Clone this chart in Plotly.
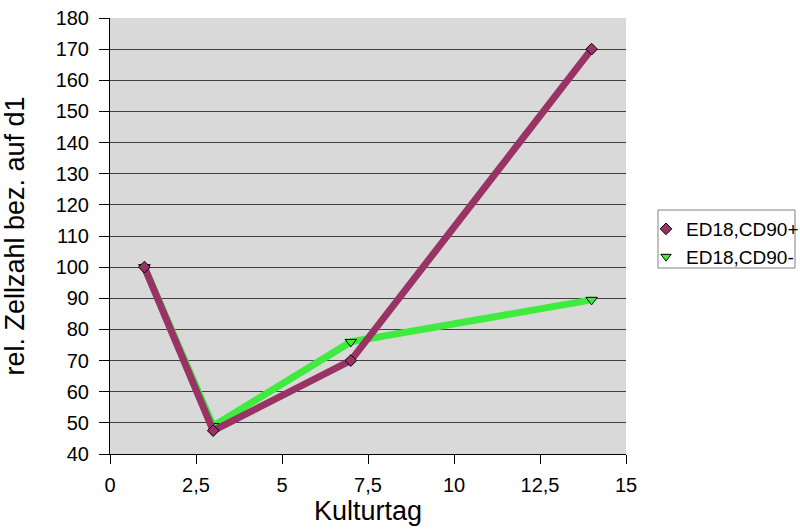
import plotly.graph_objects as go

days = [1, 3, 7, 14]
cd90_pos = [100, 47.5, 70, 170]
cd90_neg = [100, 49, 76, 89.5]
names = ["ED18,CD90+", "ED18,CD90-"]
colors = ["#993366", "#3FEB3F"]
symbols = ["diamond", "triangle-down"]

fig = go.Figure()
fig.add_trace(go.Scatter(
    x=days, y=cd90_neg, name=names[1], mode="lines+markers", showlegend=False,
    line=dict(color=colors[1], width=7),
    marker=dict(symbol=symbols[1], size=10, color=colors[1],
                line=dict(color="black", width=1))))
fig.add_trace(go.Scatter(
    x=days, y=cd90_pos, name=names[0], mode="lines+markers", showlegend=False,
    line=dict(color=colors[0], width=7),
    marker=dict(symbol=symbols[0], size=9, color=colors[0],
                line=dict(color="black", width=1))))
# legend-only entries (markers only, like the reference legend)
for nm, c, s in zip(names, colors, symbols):
    fig.add_trace(go.Scatter(
        x=[None], y=[None], name=nm, mode="markers",
        marker=dict(symbol=s, size=9, color=c, line=dict(color="black", width=1))))

# legend frame
fig.add_shape(type="rect", xref="paper", yref="paper",
              x0=1.062, x1=1.3275, y0=0.4266, y1=0.5596,
              line=dict(color="#808080", width=1), fillcolor="white", layer="below")

W, H = 800, 531
font = "Liberation Sans, Arial, sans-serif"
fig.update_layout(
    width=W, height=H,
    margin=dict(l=110, r=W - 626, t=18, b=H - 454),
    paper_bgcolor="white", plot_bgcolor="#D9D9D9",
    separators=",.",
    font=dict(family=font, size=20, color="black"),
    showlegend=True,
    legend=dict(x=646 / W, y=(H - 210) / H, xref="container", yref="container",
                xanchor="left", yanchor="top",
                bgcolor="rgba(0,0,0,0)", borderwidth=0,
                itemwidth=30, tracegroupgap=0,
                font=dict(size=19, family=font)),
    xaxis=dict(range=[0, 15], dtick=2.5, tick0=0, showgrid=False,
               zeroline=False, showline=True, linecolor="black", linewidth=1,
               ticks="outside", ticklen=9, tickcolor="black", automargin=False,
               ticklabeloverflow="allow", ticklabelstandoff=4,
               title=dict(text="Kulturtag", font=dict(size=27), standoff=4)),
    yaxis=dict(range=[40, 180], dtick=10, showgrid=True, gridcolor="#404040",
               gridwidth=1, zeroline=False, showline=True, linecolor="black",
               linewidth=1, ticks="outside", ticklen=10, tickcolor="black",
               automargin=False,
               ticklabeloverflow="allow", ticklabelstandoff=6,
               title=dict(text="rel. Zellzahl bez. auf d1", font=dict(size=27),
                          standoff=24)),
)
fig.write_html("out.html",
               config={"displayModeBar": False},
               post_script="document.body.style.margin='0';"
                           "document.body.style.overflow='hidden';")
